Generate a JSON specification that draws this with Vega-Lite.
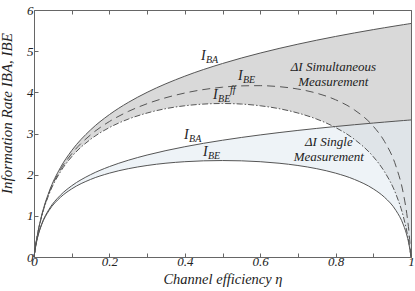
{
  "$schema": "https://vega.github.io/schema/vega-lite/v6.json",
  "width": 377,
  "height": 247,
  "autosize": {"type": "none"},
  "padding": {"left": 34, "top": 10, "right": 4, "bottom": 34},
  "background": "white",
  "config": {
    "view": {"stroke": "#666", "strokeWidth": 1},
    "font": "'Liberation Serif', 'Times New Roman', 'DejaVu Serif', serif",
    "text": {"font": "'Liberation Serif', 'Times New Roman', 'DejaVu Serif', serif"},
    "axis": {
      "labelFont": "'Liberation Serif', 'Times New Roman', 'DejaVu Serif', serif",
      "labelFontStyle": "italic",
      "labelFontSize": 13,
      "labelColor": "#222",
      "titleFont": "'Liberation Serif', 'Times New Roman', 'DejaVu Serif', serif",
      "titleFontStyle": "italic",
      "titleFontWeight": "normal",
      "titleColor": "#222",
      "tickColor": "#666",
      "domain": false,
      "grid": false
    }
  },
  "datasets": {
    "curves": [
      {"eta": 0, "A1": 0, "A2": 0, "E1": 0, "E2": 0, "Eff": 0},
      {"eta": 0.005, "A1": 0.3219, "A2": 0.2925, "E1": 0.3183, "E2": 0.2889, "Eff": 0.3148},
      {"eta": 0.01, "A1": 0.585, "A2": 0.5, "E1": 0.5778, "E2": 0.4928, "Eff": 0.5708},
      {"eta": 0.02, "A1": 1.0, "A2": 0.7925, "E1": 0.9855, "E2": 0.778, "Eff": 0.9714},
      {"eta": 0.04, "A1": 1.585, "A2": 1.161, "E1": 1.5555, "E2": 1.1318, "Eff": 1.5272},
      {"eta": 0.07, "A1": 2.1699, "A2": 1.5, "E1": 2.1172, "E2": 1.4482, "Eff": 2.0674},
      {"eta": 0.1, "A1": 2.585, "A2": 1.7297, "E1": 2.5078, "E2": 1.6545, "Eff": 2.4361},
      {"eta": 0.15, "A1": 3.0875, "A2": 2.0, "E1": 2.9668, "E2": 1.884, "Eff": 2.858},
      {"eta": 0.2, "A1": 3.4594, "A2": 2.1962, "E1": 3.2915, "E2": 2.0369, "Eff": 3.1445},
      {"eta": 0.25, "A1": 3.7549, "A2": 2.3502, "E1": 3.5352, "E2": 2.1451, "Eff": 3.3493},
      {"eta": 0.3, "A1": 4.0, "A2": 2.4771, "E1": 3.7235, "E2": 2.2229, "Eff": 3.4975},
      {"eta": 0.4, "A1": 4.3923, "A2": 2.6788, "E1": 3.9832, "E2": 2.315, "Eff": 3.6741},
      {"eta": 0.5, "A1": 4.7004, "A2": 2.8362, "E1": 4.125, "E2": 2.3433, "Eff": 3.7284},
      {"eta": 0.55, "A1": 4.8329, "A2": 2.9037, "E1": 4.1568, "E2": 2.3364, "Eff": 3.7151},
      {"eta": 0.6, "A1": 4.9542, "A2": 2.9654, "E1": 4.162, "E2": 2.315, "Eff": 3.6741},
      {"eta": 0.65, "A1": 5.0661, "A2": 3.0222, "E1": 4.138, "E2": 2.278, "Eff": 3.6032},
      {"eta": 0.7, "A1": 5.1699, "A2": 3.0749, "E1": 4.0797, "E2": 2.2229, "Eff": 3.4975},
      {"eta": 0.75, "A1": 5.2668, "A2": 3.124, "E1": 3.9786, "E2": 2.1451, "Eff": 3.3493},
      {"eta": 0.8, "A1": 5.3576, "A2": 3.1699, "E1": 3.8191, "E2": 2.0369, "Eff": 3.1445},
      {"eta": 0.85, "A1": 5.4429, "A2": 3.2131, "E1": 3.5726, "E2": 1.884, "Eff": 2.858},
      {"eta": 0.9, "A1": 5.5236, "A2": 3.2539, "E1": 3.1757, "E2": 1.6545, "Eff": 2.4361},
      {"eta": 0.93, "A1": 5.5699, "A2": 3.2773, "E1": 2.8017, "E2": 1.4482, "Eff": 2.0674},
      {"eta": 0.96, "A1": 5.6147, "A2": 3.2999, "E1": 2.2087, "E2": 1.1318, "Eff": 1.5272},
      {"eta": 0.98, "A1": 5.6439, "A2": 3.3147, "E1": 1.5284, "E2": 0.778, "Eff": 0.9714},
      {"eta": 0.99, "A1": 5.6582, "A2": 3.3219, "E1": 0.9717, "E2": 0.4928, "Eff": 0.5708},
      {"eta": 0.995, "A1": 5.6653, "A2": 3.3255, "E1": 0.5708, "E2": 0.2889, "Eff": 0.3148},
      {"eta": 1, "A1": 5.6724, "A2": 3.3291, "E1": 0, "E2": 0, "Eff": 0}
    ],
    "labels": [
      {"x": 0.443, "y": 4.785, "main": "I", "sub": "BA", "sup": ""},
      {"x": 0.541, "y": 4.3, "main": "I", "sub": "BE", "sup": ""},
      {"x": 0.475, "y": 3.84, "main": "I", "sub": "BE", "sup": "ff"},
      {"x": 0.398, "y": 2.866, "main": "I", "sub": "BA", "sup": ""},
      {"x": 0.448, "y": 2.453, "main": "I", "sub": "BE", "sup": ""}
    ],
    "notes": [
      {"x": 0.794, "y": 4.518, "text": "ΔI Simultaneous\nMeasurement"},
      {"x": 0.782, "y": 2.696, "text": "ΔI Single\nMeasurement"}
    ]
  },
  "layer": [
    {
      "data": {"name": "curves"},
      "mark": {"type": "area", "interpolate": "monotone", "color": "#d9d9d9"},
      "encoding": {
        "x": {"field": "eta", "type": "quantitative", "scale": {"domain": [0, 1], "nice": false},
          "axis": {"orient": "bottom", "values": [0, 0.1, 0.2, 0.3, 0.4, 0.5, 0.6, 0.7, 0.8, 0.9, 1], "format": "~g",
            "labelExpr": "round(datum.value*10)%2==0 ? datum.label : ''", "tickSize": -4, "labelPadding": 2,
            "labelFlush": false, "labelOverlap": false, "title": "Channel efficiency η", "titleFontSize": 14.5, "titlePadding": 4}},
        "y": {"field": "A1", "type": "quantitative", "scale": {"domain": [0, 6], "nice": false},
          "axis": {"orient": "left", "values": [0, 1, 2, 3, 4, 5, 6], "tickSize": -4, "labelPadding": 5,
            "labelFlush": false, "labelOverlap": false, "title": "Information Rate IBA, IBE", "titleFontSize": 15,
            "titleX": -20, "titleY": 103}},
        "y2": {"field": "Eff"}
      }
    },
    {
      "data": {"name": "curves"},
      "mark": {"type": "area", "interpolate": "monotone", "color": "#e3ebf2", "opacity": 0.6},
      "encoding": {
        "x": {"field": "eta", "type": "quantitative", "scale": {"domain": [0, 1], "nice": false}, "axis": null},
        "y": {"field": "A2", "type": "quantitative", "scale": {"domain": [0, 6], "nice": false}, "axis": null},
        "y2": {"field": "E2"}
      }
    },
    {
      "data": {"name": "curves"},
      "mark": {"type": "line", "interpolate": "monotone", "color": "#555", "strokeWidth": 1},
      "encoding": {
        "x": {"field": "eta", "type": "quantitative", "scale": {"domain": [0, 1], "nice": false},
          "axis": {"orient": "top", "values": [0, 0.1, 0.2, 0.3, 0.4, 0.5, 0.6, 0.7, 0.8, 0.9, 1], "labels": false, "title": null, "tickSize": -4}},
        "y": {"field": "A1", "type": "quantitative", "scale": {"domain": [0, 6], "nice": false},
          "axis": {"orient": "right", "values": [0, 1, 2, 3, 4, 5, 6], "labels": false, "title": null, "tickSize": -4}}
      }
    },
    {
      "data": {"name": "curves"},
      "mark": {"type": "line", "interpolate": "monotone", "color": "#555", "strokeWidth": 1},
      "encoding": {
        "x": {"field": "eta", "type": "quantitative", "scale": {"domain": [0, 1], "nice": false}, "axis": null},
        "y": {"field": "A2", "type": "quantitative", "scale": {"domain": [0, 6], "nice": false}, "axis": null}
      }
    },
    {
      "data": {"name": "curves"},
      "mark": {"type": "line", "interpolate": "monotone", "color": "#555", "strokeWidth": 1},
      "encoding": {
        "x": {"field": "eta", "type": "quantitative", "scale": {"domain": [0, 1], "nice": false}, "axis": null},
        "y": {"field": "E2", "type": "quantitative", "scale": {"domain": [0, 6], "nice": false}, "axis": null}
      }
    },
    {
      "data": {"name": "curves"},
      "mark": {"type": "line", "interpolate": "monotone", "color": "#555", "strokeWidth": 1, "strokeDash": [8, 5]},
      "encoding": {
        "x": {"field": "eta", "type": "quantitative", "scale": {"domain": [0, 1], "nice": false}, "axis": null},
        "y": {"field": "E1", "type": "quantitative", "scale": {"domain": [0, 6], "nice": false}, "axis": null}
      }
    },
    {
      "data": {"name": "curves"},
      "mark": {"type": "line", "interpolate": "monotone", "color": "#555", "strokeWidth": 1, "strokeDash": [6, 2, 1.5, 2]},
      "encoding": {
        "x": {"field": "eta", "type": "quantitative", "scale": {"domain": [0, 1], "nice": false}, "axis": null},
        "y": {"field": "Eff", "type": "quantitative", "scale": {"domain": [0, 6], "nice": false}, "axis": null}
      }
    },
    {
      "data": {"name": "labels"},
      "mark": {"type": "text", "align": "left", "baseline": "alphabetic", "fontSize": 14, "fontStyle": "italic", "color": "#222"},
      "encoding": {
        "x": {"field": "x", "type": "quantitative", "scale": {"domain": [0, 1], "nice": false}, "axis": null},
        "y": {"field": "y", "type": "quantitative", "scale": {"domain": [0, 6], "nice": false}, "axis": null},
        "text": {"field": "main"}
      }
    },
    {
      "data": {"name": "labels"},
      "mark": {"type": "text", "align": "left", "baseline": "alphabetic", "dx": 5, "dy": 3, "fontSize": 10, "fontStyle": "italic", "color": "#222"},
      "encoding": {
        "x": {"field": "x", "type": "quantitative", "scale": {"domain": [0, 1], "nice": false}, "axis": null},
        "y": {"field": "y", "type": "quantitative", "scale": {"domain": [0, 6], "nice": false}, "axis": null},
        "text": {"field": "sub"}
      }
    },
    {
      "data": {"name": "labels"},
      "mark": {"type": "text", "align": "left", "baseline": "alphabetic", "dx": 17, "dy": -6, "fontSize": 10, "fontStyle": "italic", "color": "#222"},
      "encoding": {
        "x": {"field": "x", "type": "quantitative", "scale": {"domain": [0, 1], "nice": false}, "axis": null},
        "y": {"field": "y", "type": "quantitative", "scale": {"domain": [0, 6], "nice": false}, "axis": null},
        "text": {"field": "sup"}
      }
    },
    {
      "data": {"name": "notes"},
      "mark": {"type": "text", "align": "center", "baseline": "alphabetic", "lineBreak": "\n", "lineHeight": 15, "fontSize": 13, "fontStyle": "italic", "color": "#222"},
      "encoding": {
        "x": {"field": "x", "type": "quantitative", "scale": {"domain": [0, 1], "nice": false}, "axis": null},
        "y": {"field": "y", "type": "quantitative", "scale": {"domain": [0, 6], "nice": false}, "axis": null},
        "text": {"field": "text"}
      }
    }
  ],
  "resolve": {"axis": {"x": "independent", "y": "independent"}}
}
